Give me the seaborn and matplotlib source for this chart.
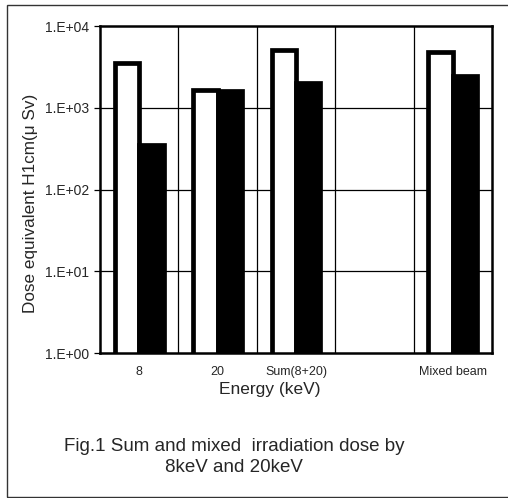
import numpy as np
import pandas as pd
import matplotlib
matplotlib.use("Agg")
import matplotlib.pyplot as plt
from matplotlib.patches import Rectangle
from matplotlib.ticker import FuncFormatter, NullLocator
import seaborn as sns

# data
categories = ["8", "20", "Sum(8+20)", " ", "Mixed beam"]
series = ["A", "B"]
white_vals = [3500, 1650, 5100, np.nan, 4800]
black_vals = [350, 1600, 2000, np.nan, 2450]

df = pd.DataFrame({
    "energy": categories * 2,
    "series": ["A"] * len(categories) + ["B"] * len(categories),
    "dose": white_vals + black_vals,
})

sns.set_style("white")
plt.rcParams['font.family'] = ['Liberation Sans', 'DejaVu Sans']

fig = plt.figure(figsize=(5.08, 4.98), dpi=100)
ax = fig.add_axes([100 / 508, 1 - 353 / 498, 392 / 508, 327 / 498])

sns.barplot(data=df.dropna(), x="energy", y="dose", hue="series",
            order=categories, hue_order=series,
            palette={"A": "white", "B": "black"}, edgecolor="black",
            linewidth=3.4, width=0.62, legend=False,
            errorbar=None, ax=ax)
ax.set_yscale("log")

ax.set_ylim(1, 1e4)
ax.set_xlim(-0.5, len(categories) - 0.5)
ax.yaxis.set_minor_locator(NullLocator())
ax.set_yticks([1, 10, 100, 1000, 10000])
ax.yaxis.set_major_formatter(FuncFormatter(
    lambda v, p: f"1.E+{int(round(np.log10(v))):02d}"))

# grid lines behind the bars
for y in [10, 100, 1000]:
    ax.axhline(y, color="black", lw=0.9, zorder=0.5)
for x in np.arange(0.5, len(categories) - 0.5):
    ax.axvline(x, color="black", lw=0.9, zorder=0.5)

for s in ax.spines.values():
    s.set_color("black")
    s.set_linewidth(1.8)

ax.tick_params(axis="y", which="major", direction="out", length=4,
               width=0.9, color="black", labelsize=10, pad=4, left=True)
ax.tick_params(axis="x", length=0, labelsize=9, pad=9)

ax.set_xlabel("Energy (keV)", fontsize=12.5)
ax.xaxis.set_label_coords(0.434, -0.088)
ax.set_ylabel("Dose equivalent H1cm(\u03bc Sv)", fontsize=12.3)
ax.yaxis.set_label_coords(-0.158, 0.459)

fig.text(234 / 508, 1 - 457 / 498,
         "Fig.1 Sum and mixed  irradiation dose by\n8keV and 20keV",
         ha="center", va="center", multialignment="center",
         fontsize=13.5, linespacing=1.25)

# outer frame (right edge falls outside the picture)
fig.patches.append(Rectangle((7 / 508, 1 / 498), 1.5, 492 / 498,
                             transform=fig.transFigure, fill=False,
                             edgecolor="#333333", lw=1.0))

fig.savefig("out.png", dpi=100)
